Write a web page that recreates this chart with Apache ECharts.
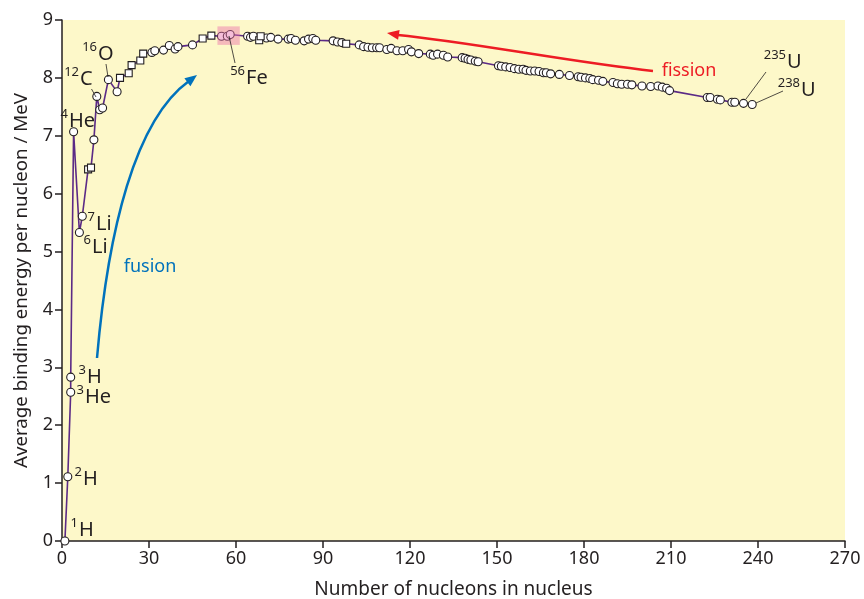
<!DOCTYPE html>
<html>
<head>
<meta charset="utf-8">
<script src="https://cdn.jsdelivr.net/npm/echarts@6/dist/echarts.min.js"></script>
<style>
html, body { margin: 0; padding: 0; background: #fff; }
#main { width: 864px; height: 599px; }
</style>
</head>
<body>
<div id="main"></div>
<script>
// nuclides drawn with round markers: mass number / binding energy per nucleon (MeV)
var circleA = [1, 2, 3, 3, 4, 6, 7, 11, 12, 13, 14, 16, 19, 31, 32, 35, 37, 39, 40, 45,
	55, 57, 58, 64, 65, 66, 70.5, 72, 74.5, 78, 79, 80.5, 83.5, 85, 86.5, 87.5, 93.5, 95, 96.5,
	102.5, 104, 105.5, 107, 108.5, 109.5, 112, 113.5, 115.5, 117.5, 119.5, 120.5, 123, 127, 128,
	129.5, 131.5, 133, 138, 139, 140, 141, 142.5, 143.5, 150.5, 151.5, 153, 154.5, 156, 157.5,
	159, 160, 161.5, 163, 164.5, 166, 167, 168.5, 171.5, 175, 178, 179, 180.5, 182, 183, 185,
	186.5, 190, 191.5, 193, 195, 196.5, 200, 203, 205.5, 207, 208.5, 209.5, 222.5, 223.5, 226,
	227, 231, 232, 235, 238];
var circleE = [0, 1.11, 2.57, 2.83, 7.07, 5.33, 5.61, 6.93, 7.68, 7.45, 7.48, 7.97, 7.76, 8.44, 8.47, 8.48, 8.56, 8.50, 8.54, 8.57,
	8.72, 8.72, 8.75, 8.72, 8.70, 8.72, 8.69, 8.70, 8.67, 8.67, 8.68, 8.65, 8.64, 8.67, 8.68, 8.65, 8.64, 8.62, 8.61,
	8.57, 8.54, 8.53, 8.52, 8.52, 8.52, 8.49, 8.51, 8.47, 8.47, 8.49, 8.45, 8.42, 8.41, 8.39,
	8.41, 8.39, 8.36, 8.35, 8.34, 8.32, 8.31, 8.29, 8.28, 8.21, 8.20, 8.19, 8.18, 8.16, 8.15,
	8.15, 8.13, 8.12, 8.12, 8.11, 8.09, 8.09, 8.07, 8.06, 8.04, 8.02, 8.01, 8.00, 7.99, 7.97, 7.96,
	7.94, 7.92, 7.90, 7.89, 7.89, 7.88, 7.86, 7.85, 7.86, 7.84, 7.82, 7.78, 7.66, 7.66, 7.63,
	7.62, 7.58, 7.58, 7.56, 7.54];

// nuclides drawn with square markers
var squareA = [9, 10, 20, 23, 24, 27, 28, 48.5, 51.5, 68, 68.5, 98];
var squareE = [6.42, 6.45, 8.00, 8.08, 8.22, 8.30, 8.42, 8.68, 8.73, 8.65, 8.72, 8.59];

// highlighted iron peak region
var ironA = [53.6, 61.3];
var ironE = [8.57, 8.89];

var INK = '#231f20';
var FONT = '"Noto Sans", sans-serif';

function pairs(xs, ys) {
	var out = [];
	for (var i = 0; i < xs.length; i++) out.push([xs[i], ys[i]]);
	return out;
}

var circles = pairs(circleA, circleE);
var squares = pairs(squareA, squareE);
var curve = circles.concat(squares).sort(function (a, b) {
	return a[0] - b[0] || a[1] - b[1];
});

// superscript + symbol label, x = left edge of symbol, y = middle
function nuclide(sup, sym, x, y) {
	return [{
		type: 'text', x: x - 1, y: y - 7, z: 20,
		style: { text: sup, font: '13px ' + FONT, fill: INK, align: 'right', verticalAlign: 'middle' }
	}, {
		type: 'text', x: x, y: y, z: 20,
		style: { text: sym, font: '20px ' + FONT, fill: INK, align: 'left', verticalAlign: 'middle' }
	}];
}

function leader(x1, y1, x2, y2) {
	return { type: 'line', z: 20, shape: { x1: x1, y1: y1, x2: x2, y2: y2 }, style: { stroke: INK, lineWidth: 0.8 } };
}

function head(tx, ty, fx, fy, len, half, color) {
	var dx = tx - fx, dy = ty - fy, d = Math.sqrt(dx * dx + dy * dy);
	dx /= d; dy /= d;
	var bx = tx - dx * len, by = ty - dy * len;
	return {
		type: 'polygon', z: 20,
		shape: { points: [[tx, ty], [bx - dy * half, by + dx * half], [bx + dy * half, by - dx * half]] },
		style: { fill: color }
	};
}

var graphics = [];
graphics = graphics.concat(
	nuclide('1', 'H', 79, 530),
	nuclide('2', 'H', 83, 479),
	nuclide('3', 'He', 85, 397),
	nuclide('3', 'H', 87, 377),
	nuclide('4', 'He', 69, 121),
	nuclide('7', 'Li', 96, 224),
	nuclide('6', 'Li', 92, 247),
	nuclide('12', 'C', 80, 79),
	nuclide('16', 'O', 98, 54),
	nuclide('56', 'Fe', 246, 78),
	nuclide('235', 'U', 787, 62),
	nuclide('238', 'U', 801, 90)
);
graphics.push(
	leader(91.5, 89, 96, 97),
	leader(106, 64, 108, 77),
	leader(229, 36, 235, 63),
	leader(766, 72, 746, 99),
	leader(783, 91, 756, 103)
);
// fusion arrow
graphics.push({
	type: 'bezierCurve', z: 20,
	shape: { x1: 97, y1: 358, cpx1: 108, cpy1: 230, cpx2: 135, cpy2: 120, x2: 189, y2: 81 },
	style: { stroke: '#0072bc', lineWidth: 2.5, fill: null }
});
graphics.push(head(197, 75, 189, 81, 12, 5, '#0072bc'));
graphics.push({
	type: 'text', x: 150, y: 267, z: 20,
	style: { text: 'fusion', font: '18px ' + FONT, fill: '#0072bc', align: 'center', verticalAlign: 'middle' }
});
// fission arrow
graphics.push({
	type: 'bezierCurve', z: 20,
	shape: { x1: 653, y1: 71, cpx1: 570, cpy1: 62, cpx2: 470, cpy2: 42, x2: 398, y2: 35 },
	style: { stroke: '#ed1c24', lineWidth: 2.5, fill: null }
});
graphics.push(head(387, 33, 400, 35, 12, 5, '#ed1c24'));
graphics.push({
	type: 'text', x: 689, y: 71, z: 20,
	style: { text: 'fission', font: '18px ' + FONT, fill: '#ed1c24', align: 'center', verticalAlign: 'middle' }
});

var chart = echarts.init(document.getElementById('main'));

chart.setOption({
	backgroundColor: '#fff',
	animation: false,
	textStyle: { fontFamily: FONT, color: INK },
	grid: {
		left: 62, right: 19, top: 20, bottom: 58,
		outerBoundsMode: 'none',
		show: true, backgroundColor: '#fdf8c9', borderWidth: 0
	},
	xAxis: {
		type: 'value', min: 0, max: 270, interval: 30,
		name: 'Number of nucleons in nucleus',
		nameLocation: 'middle', nameGap: 39,
		nameTextStyle: { fontSize: 19, color: INK },
		axisLine: { lineStyle: { color: INK, width: 1.5 } },
		axisTick: { length: 7, lineStyle: { color: INK, width: 1.5 } },
		axisLabel: { fontSize: 18, color: INK, margin: 9 },
		splitLine: { show: false }
	},
	yAxis: {
		type: 'value', min: 0, max: 9, interval: 1,
		name: 'Average binding energy per nucleon / MeV',
		nameLocation: 'middle', nameGap: 31,
		nameTextStyle: { fontSize: 18.7, color: INK },
		axisLine: { show: true, lineStyle: { color: INK, width: 1.5 } },
		axisTick: { show: true, length: 7, lineStyle: { color: INK, width: 1.5 } },
		axisLabel: { fontSize: 18, color: INK, margin: 9 },
		splitLine: { show: false }
	},
	series: [{
		type: 'line',
		data: curve,
		symbol: 'none',
		clip: false,
		lineStyle: { color: '#5b2a86', width: 1.6 },
		z: 2
	}, {
		type: 'scatter',
		data: circles,
		symbol: 'circle',
		symbolSize: 8,
		clip: false,
		itemStyle: { color: '#fff', borderColor: INK, borderWidth: 1.1, opacity: 1 },
		z: 3
	}, {
		type: 'scatter',
		data: squares,
		symbol: 'rect',
		symbolSize: 7,
		clip: false,
		itemStyle: { color: '#fff', borderColor: INK, borderWidth: 1.1, opacity: 1 },
		z: 3
	}, {
		type: 'line',
		data: [],
		z: 6,
		markArea: {
			silent: true,
			z: 10,
			itemStyle: { color: 'rgba(235, 110, 170, 0.45)' },
			data: [[{ coord: [ironA[0], ironE[0]] }, { coord: [ironA[1], ironE[1]] }]]
		}
	}],
	graphic: graphics
});
</script>
</body>
</html>
